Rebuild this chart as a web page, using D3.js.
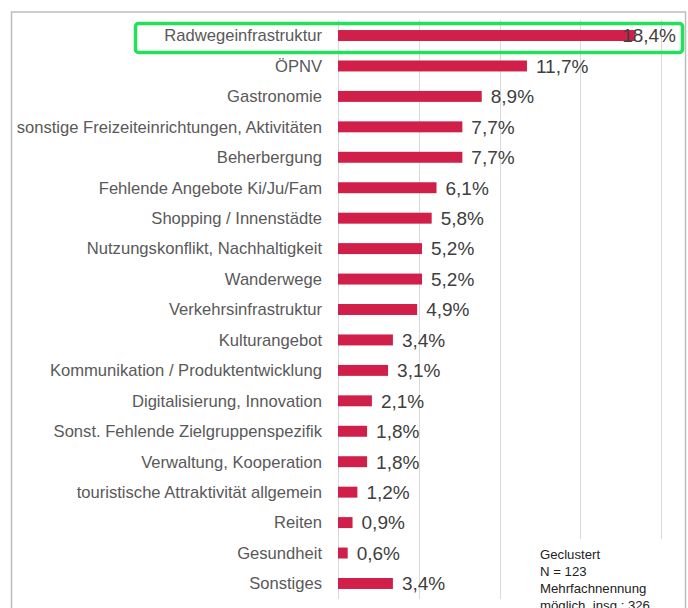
<!DOCTYPE html>
<html>
<head>
<meta charset="utf-8">
<script src="https://cdn.jsdelivr.net/npm/d3@7"></script>
<style>
  body { margin: 0; background: #fff; }
  text { font-family: "Liberation Sans", Arial, sans-serif; }
</style>
</head>
<body>
<div id="chart"></div>
<script>
// categories top to bottom
const categories = [
    "Radwegeinfrastruktur",
    "ÖPNV",
    "Gastronomie",
    "sonstige Freizeiteinrichtungen, Aktivitäten",
    "Beherbergung",
    "Fehlende Angebote Ki/Ju/Fam",
    "Shopping / Innenstädte",
    "Nutzungskonflikt, Nachhaltigkeit",
    "Wanderwege",
    "Verkehrsinfrastruktur",
    "Kulturangebot",
    "Kommunikation / Produktentwicklung",
    "Digitalisierung, Innovation",
    "Sonst. Fehlende Zielgruppenspezifik",
    "Verwaltung, Kooperation",
    "touristische Attraktivität allgemein",
    "Reiten",
    "Gesundheit",
    "Sonstiges"
];
const values = [18.4, 11.7, 8.9, 7.7, 7.7, 6.1, 5.8, 5.2, 5.2, 4.9, 3.4, 3.1, 2.1, 1.8, 1.8, 1.2, 0.9, 0.6, 3.4];
const xTicks = [0, 5, 10, 15, 20];
const noteLines = ["Geclustert", "N = 123", "Mehrfachnennung", "möglich, insg.: 326"];

const width = 688, height = 608;
const data = categories.map(function(c, i) { return { name: c, value: values[i] }; });

const svg = d3.select("#chart").append("svg")
    .attr("width", width)
    .attr("height", height);

// chart frame
svg.append("rect")
    .attr("x", 11.5).attr("y", 12)
    .attr("width", 674).attr("height", 620)
    .attr("fill", "none")
    .attr("stroke", "#bdbdbd")
    .attr("stroke-width", 1.5);

const x = d3.scaleLinear().domain([0, 20]).range([338, 661]);
const y = d3.scaleBand()
    .domain(categories)
    .range([20.3, 598.7])
    .paddingInner(0.64)
    .paddingOuter(0.32);

// gridlines
svg.append("g")
    .selectAll("line")
    .data(xTicks).enter()
    .append("line")
        .attr("x1", function(d) { return Math.round(x(d)) + 0.5; })
        .attr("x2", function(d) { return Math.round(x(d)) + 0.5; })
        .attr("y1", 20)
        .attr("y2", 599)
        .attr("stroke", "#d9d9d9")
        .attr("stroke-width", 1);

// bars
svg.append("g")
    .selectAll("rect")
    .data(data).enter()
    .append("rect")
        .attr("x", x(0))
        .attr("y", function(d) { return y(d.name); })
        .attr("width", function(d) { return x(d.value) - x(0); })
        .attr("height", y.bandwidth())
        .attr("fill", "#d01f48");

// category labels
svg.append("g")
    .selectAll("text")
    .data(data).enter()
    .append("text")
        .attr("x", 322)
        .attr("y", function(d) { return y(d.name) + y.bandwidth() / 2; })
        .attr("dy", "0.35em")
        .attr("text-anchor", "end")
        .attr("font-size", "16.6px")
        .attr("fill", "#595959")
        .text(function(d) { return d.name; });

// value labels, kept inside the plot area
const fmt = d3.format(".1f");
svg.append("g")
    .selectAll("text")
    .data(data).enter()
    .append("text")
        .attr("y", function(d) { return y(d.name) + y.bandwidth() / 2; })
        .attr("dy", "0.36em")
        .attr("font-size", "19px")
        .attr("fill", "#404040")
        .text(function(d) { return fmt(d.value).replace(".", ",") + "%"; })
        .attr("x", function(d) {
            const w = this.getComputedTextLength();
            return Math.min(x(d.value) + 9, 676 - w);
        });

// note box
const note = svg.append("g").attr("transform", "translate(530,539)");
note.append("rect")
    .attr("width", 150).attr("height", 80)
    .attr("fill", "#fff");
note.selectAll("text")
    .data(noteLines).enter()
    .append("text")
        .attr("x", 10)
        .attr("y", function(d, i) { return 20 + i * 17; })
        .attr("font-size", "13.2px")
        .attr("fill", "#222")
        .text(function(d) { return d; });

// highlight box
svg.append("rect")
    .attr("x", 135.5).attr("y", 23.5)
    .attr("width", 547).attr("height", 29)
    .attr("rx", 3)
    .attr("fill", "none")
    .attr("stroke", "#22e05a")
    .attr("stroke-width", 3.5);
</script>
</body>
</html>
